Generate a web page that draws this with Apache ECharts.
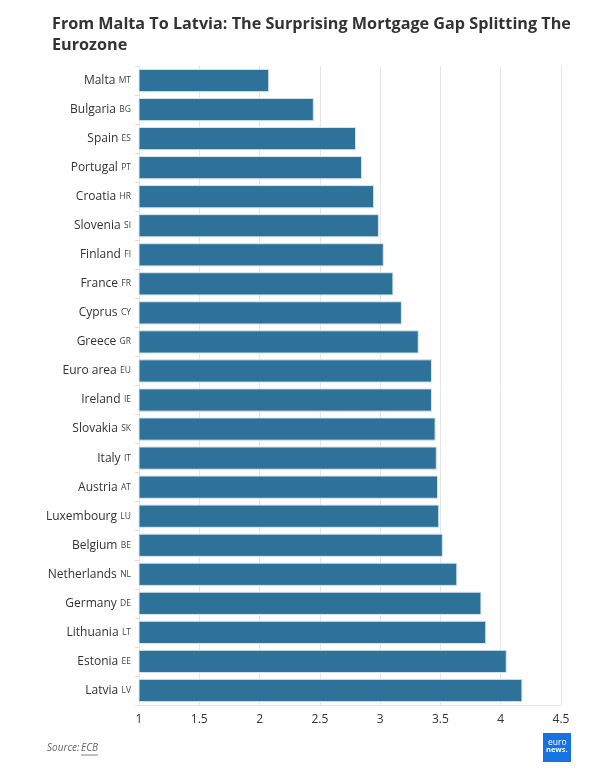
<!DOCTYPE html>
<html>
<head>
<meta charset="utf-8">
<script src="https://cdn.jsdelivr.net/npm/echarts@6/dist/echarts.min.js"></script>
<style>
html,body{margin:0;padding:0;background:#fff;}
#c{width:596px;height:773px;}
</style>
</head>
<body>
<div id="c"></div>
<script>
const countries = ["Malta","Bulgaria","Spain","Portugal","Croatia","Slovenia","Finland","France","Cyprus","Greece","Euro area","Ireland","Slovakia","Italy","Austria","Luxembourg","Belgium","Netherlands","Germany","Lithuania","Estonia","Latvia"];
const codes = ["MT","BG","ES","PT","HR","SI","FI","FR","CY","GR","EU","IE","SK","IT","AT","LU","BE","NL","DE","LT","EE","LV"];
const rates = [2.08,2.45,2.80,2.85,2.95,2.99,3.03,3.11,3.18,3.32,3.43,3.43,3.46,3.47,3.48,3.49,3.52,3.64,3.84,3.88,4.05,4.18];
const xTicks = [1,1.5,2,2.5,3,3.5,4,4.5];

const chart = echarts.init(document.getElementById('c'), null, {renderer:'canvas'});
chart.setOption({
  animation:false,
  backgroundColor:'#fff',
  title:{
    text:'From Malta To Latvia: The Surprising Mortgage Gap Splitting The\nEurozone',
    left:47, top:9,
    textStyle:{fontFamily:'Open Sans',fontWeight:'bold',fontSize:16.2,color:'#333',lineHeight:21}
  },
  grid:{left:139,right:35,top:66,bottom:68,containLabel:false},
  xAxis:{
    type:'value',min:xTicks[0],max:xTicks[xTicks.length-1],interval:0.5,
    axisLine:{show:true,lineStyle:{color:'#e6e6e6'}},
    axisTick:{show:false},
    splitLine:{show:true,lineStyle:{color:'#e6e6e6',width:1}},
    axisLabel:{fontFamily:'Open Sans',fontSize:12,color:'#333',margin:9,
      formatter:v=>String(v)}
  },
  yAxis:{
    type:'category',inverse:true,data:countries,
    axisLine:{show:false},
    axisTick:{show:true,length:4,lineStyle:{color:'#ddd'}},
    axisLabel:{margin:8,
      formatter:(v,i)=>'{n|'+v+'} {c|'+codes[i]+'}',
      rich:{
        n:{fontFamily:'Open Sans',fontSize:12,color:'#333'},
        c:{fontFamily:'Open Sans',fontSize:8.5,color:'#444'}
      }
    }
  },
  series:[{
    type:'bar',data:rates,barCategoryGap:'20%',
    itemStyle:{color:'#2e7299',borderColor:'#d4e6f0',borderWidth:1}
  }],
  graphic:[
    {type:'text',left:47,top:743,style:{text:'Source:',font:'italic 10px "Open Sans"',fill:'#666'}},
    {type:'text',left:81,top:743,style:{text:'ECB',font:'italic 10px "Open Sans"',fill:'#666'}},
    {type:'line',shape:{x1:81,y1:755,x2:98,y2:755},style:{stroke:'#666',lineWidth:0.8}},
    {type:'rect',shape:{x:543,y:733,width:28,height:29},style:{fill:'#1673e4'}},
    {type:'text',left:548,top:738,style:{text:'euro',font:'8.5px "Open Sans"',fill:'#fff'}},
    {type:'text',left:546,top:746,style:{text:'news.',font:'bold 7.5px "Open Sans"',fill:'#fff'}}
  ]
});
</script>
</body>
</html>
